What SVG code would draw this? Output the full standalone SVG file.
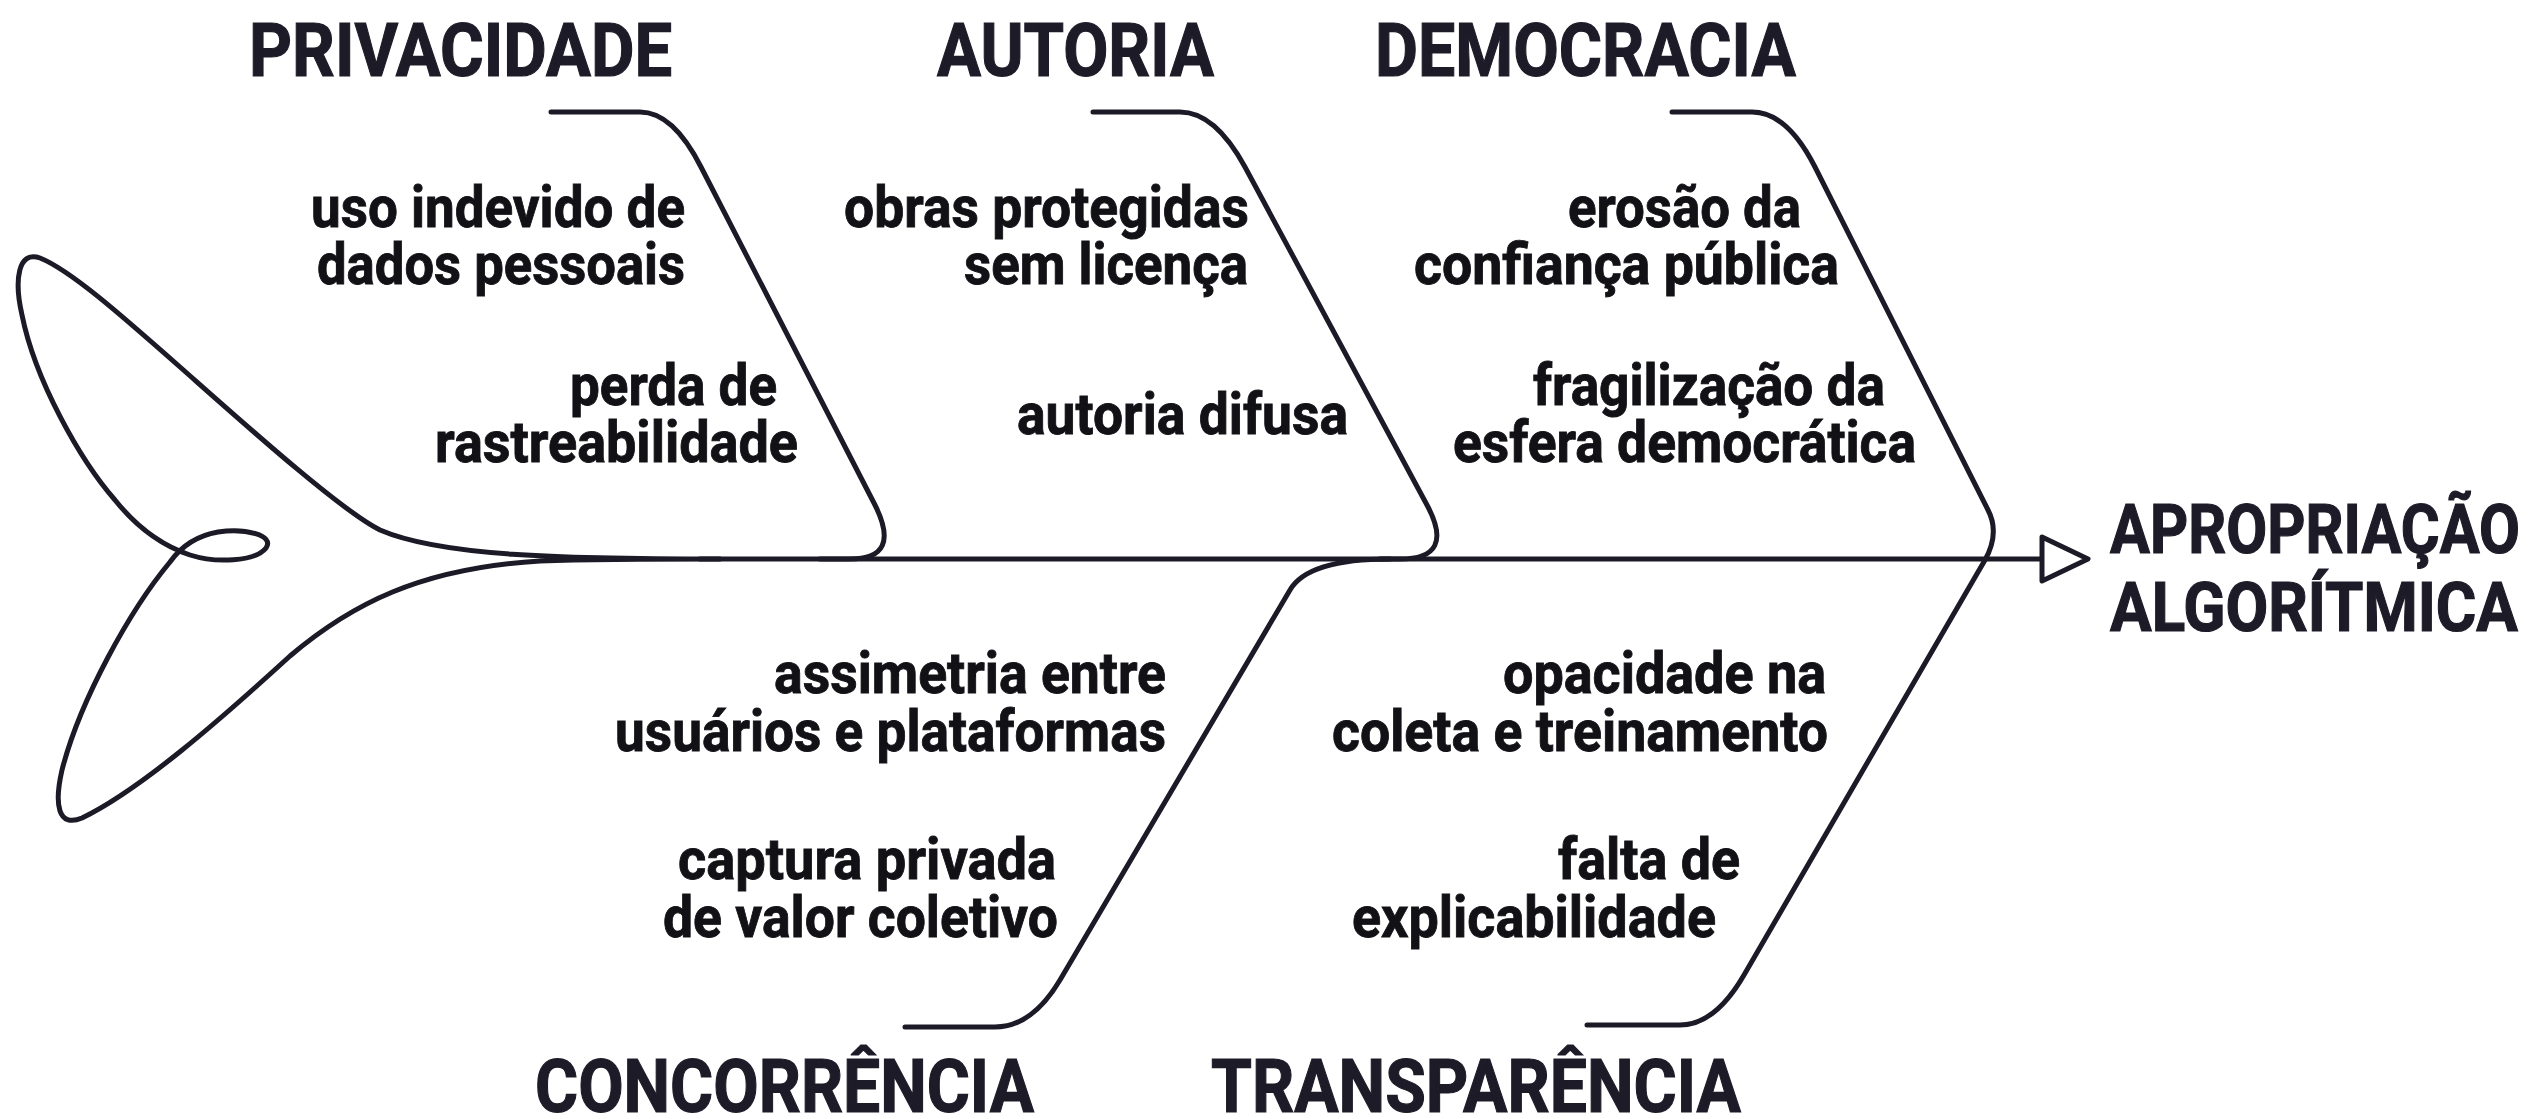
<svg xmlns="http://www.w3.org/2000/svg" width="2538" height="1119" viewBox="0 0 2538 1119">
<style>
.ln{fill:none;stroke:#1b1a26;stroke-width:5;stroke-linecap:round;stroke-linejoin:round}
.t{font-family:"Liberation Sans Narrow","Roboto","DejaVu Sans Condensed",sans-serif;font-weight:700}
.h{font-size:75px;fill:#1c1b27;stroke:#1c1b27;stroke-width:1.2}
.m{font-size:68px;fill:#1c1b27;stroke:#1c1b27;stroke-width:1.2}
.b{font-size:58px;fill:#111116;stroke:#111116;stroke-width:0.9;text-anchor:end}
</style>
<rect width="2538" height="1119" fill="#ffffff"/>
<g id="connectors">
<path id="tail" class="ln" d="M720,559 C560,559 440,556 380,530 C340,510 240,420 180,367 C120,314 70,270 40,258 C18,250 14,280 22,315 C35,380 80,460 115,500 C135,525 160,545 190,555 C215,563 255,562 266,548 C275,535 245,528 218,532 C195,536 180,548 170,562 C130,610 80,700 62,770 C54,805 58,828 82,818 C140,790 220,720 290,656 C350,605 420,568 540,561 C600,559 650,559 720,559"/>
<path id="spine" class="ln" d="M700,559 L2042,559"/>
<path id="arrowhead" class="ln" d="M2042,537 L2088,559 L2042,581 Z" style="fill:#ffffff"/>
<path id="b-privacidade" class="ln" d="M551,112 L640,112 Q673,112 701,167 L875,505 Q902,559 850,559 L820,559"/>
<path id="b-autoria" class="ln" d="M1093,112 L1180,112 Q1215,112 1245,167 L1427,505 Q1456,559 1400,559 L1380,559"/>
<path id="b-democracia-transparencia" class="ln" d="M1672,112 L1752,112 Q1787,112 1815,167 L1988,510 Q2000,533 1985,560 L1744,975 Q1715,1025 1680,1025 L1587,1025"/>
<path id="b-concorrencia" class="ln" d="M1390,559 Q1308,559 1290,590 L1060,980 Q1032,1027 995,1027 L905,1027"/>
</g>
<g id="node-privacidade">
<text class="t h" x="249" y="76" textLength="423" lengthAdjust="spacingAndGlyphs">PRIVACIDADE</text>
<text class="t b" x="685" y="227" textLength="374" lengthAdjust="spacingAndGlyphs">uso indevido de</text>
<text class="t b" x="685" y="284" textLength="368" lengthAdjust="spacingAndGlyphs">dados pessoais</text>
<text class="t b" x="777" y="405" textLength="207" lengthAdjust="spacingAndGlyphs">perda de</text>
<text class="t b" x="798" y="462" textLength="363" lengthAdjust="spacingAndGlyphs">rastreabilidade</text>
</g>
<g id="node-autoria">
<text class="t h" x="937" y="76" textLength="277" lengthAdjust="spacingAndGlyphs">AUTORIA</text>
<text class="t b" x="1249" y="227" textLength="405" lengthAdjust="spacingAndGlyphs">obras protegidas</text>
<text class="t b" x="1248" y="284" textLength="284" lengthAdjust="spacingAndGlyphs">sem licença</text>
<text class="t b" x="1348" y="434" textLength="331" lengthAdjust="spacingAndGlyphs">autoria difusa</text>
</g>
<g id="node-democracia">
<text class="t h" x="1375" y="76" textLength="421" lengthAdjust="spacingAndGlyphs">DEMOCRACIA</text>
<text class="t b" x="1801" y="227" textLength="233" lengthAdjust="spacingAndGlyphs">erosão da</text>
<text class="t b" x="1839" y="284" textLength="425" lengthAdjust="spacingAndGlyphs">confiança pública</text>
<text class="t b" x="1885" y="405" textLength="352" lengthAdjust="spacingAndGlyphs">fragilização da</text>
<text class="t b" x="1916" y="462" textLength="463" lengthAdjust="spacingAndGlyphs">esfera democrática</text>
</g>
<g id="node-concorrencia">
<text class="t h" x="535" y="1112" textLength="499" lengthAdjust="spacingAndGlyphs">CONCORRÊNCIA</text>
<text class="t b" x="1166" y="693" textLength="392" lengthAdjust="spacingAndGlyphs">assimetria entre</text>
<text class="t b" x="1166" y="751" textLength="551" lengthAdjust="spacingAndGlyphs">usuários e plataformas</text>
<text class="t b" x="1056" y="879" textLength="378" lengthAdjust="spacingAndGlyphs">captura privada</text>
<text class="t b" x="1058" y="937" textLength="395" lengthAdjust="spacingAndGlyphs">de valor coletivo</text>
</g>
<g id="node-transparencia">
<text class="t h" x="1211" y="1112" textLength="530" lengthAdjust="spacingAndGlyphs">TRANSPARÊNCIA</text>
<text class="t b" x="1826" y="693" textLength="323" lengthAdjust="spacingAndGlyphs">opacidade na</text>
<text class="t b" x="1828" y="751" textLength="496" lengthAdjust="spacingAndGlyphs">coleta e treinamento</text>
<text class="t b" x="1740" y="879" textLength="182" lengthAdjust="spacingAndGlyphs">falta de</text>
<text class="t b" x="1716" y="937" textLength="364" lengthAdjust="spacingAndGlyphs">explicabilidade</text>
</g>
<g id="node-effect">
<text class="t m" x="2110" y="553" textLength="410" lengthAdjust="spacingAndGlyphs">APROPRIAÇÃO</text>
<text class="t m" x="2110" y="631" textLength="408" lengthAdjust="spacingAndGlyphs">ALGORÍTMICA</text>
</g>
</svg>
